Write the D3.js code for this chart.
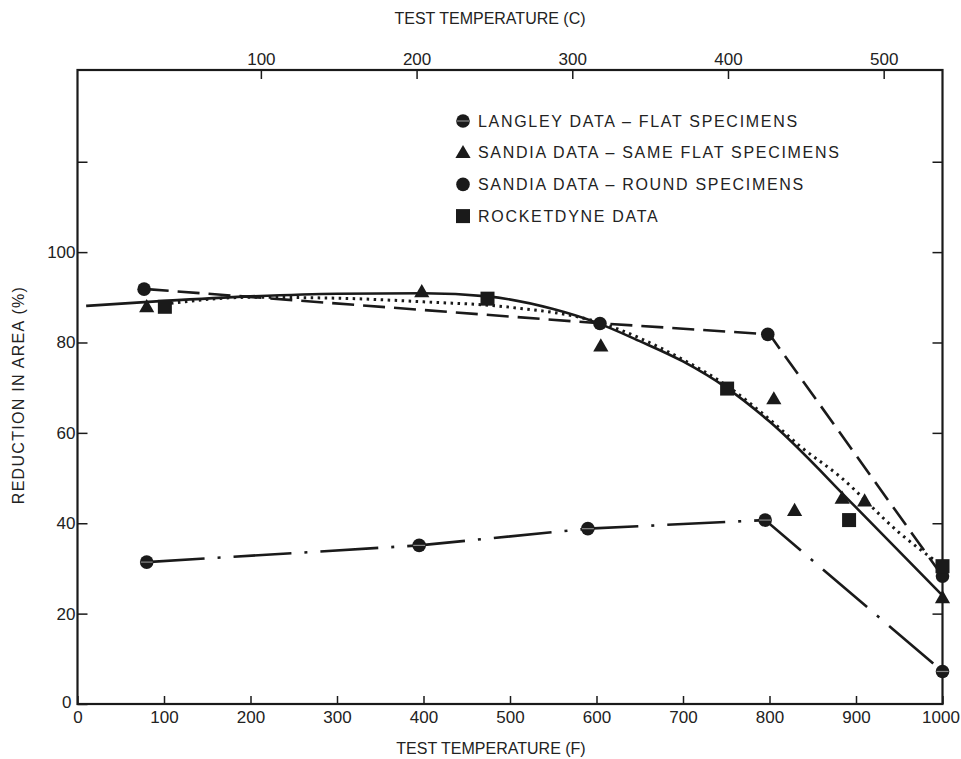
<!DOCTYPE html>
<html>
<head>
<meta charset="utf-8">
<script src="https://cdn.jsdelivr.net/npm/d3@7"></script>
<style>
  body { margin: 0; background: #fff; }
  svg { display: block; }
  text { font-family: "Liberation Sans", Arial, sans-serif; fill: #222; }
</style>
</head>
<body>
<svg id="chart" width="961" height="759"></svg>
<script>
// values (x = test temperature F, y = reduction in area %)
const langleyF = [80, 395, 590, 795, 1000]
const langleyV = [31.4, 35.1, 38.8, 40.7, 7.2]

const sandiaFlatF = [80, 398, 605, 805, 829, 884, 910, 1000]
const sandiaFlatV = [87.9, 91.2, 79.2, 67.5, 42.8, 45.5, 44.9, 23.5]

const sandiaRoundF = [77, 604, 798, 1000]
const sandiaRoundV = [91.8, 84.2, 81.8, 28.3]

const rocketF = [101, 474, 751, 892, 1000]
const rocketV = [87.9, 89.7, 69.8, 40.7, 30.5]

// faired curves
const solidF = [10, 100, 200, 300, 400, 474, 550, 600, 650, 700, 750, 800, 900, 1000]
const solidV = [88.1, 89.2, 90.2, 90.8, 90.9, 90.2, 87.4, 84.4, 80.3, 75.8, 70, 62.5, 43.5, 24]

const dottedF = [100, 200, 300, 400, 500, 600, 700, 750, 800, 835, 881, 950, 1000]
const dottedV = [88.5, 90, 89.8, 89, 87.8, 84.6, 76.2, 70.5, 63, 57.1, 50.4, 37.9, 30.5]

const dashedF = [80, 600, 800, 1000]
const dashedV = [91.8, 84.3, 81.8, 28.3]

const langleyLineF = [80, 395, 590, 795, 1000]
const langleyLineV = [31.4, 35.1, 38.8, 40.7, 7.2]

const fTicks = [0, 100, 200, 300, 400, 500, 600, 700, 800, 900, 1000]
const cTicks = [100, 200, 300, 400, 500]
const yTicks = [0, 20, 40, 60, 80, 100, 120]

const legendLabels = [
    "LANGLEY DATA – FLAT SPECIMENS",
    "SANDIA DATA – SAME FLAT SPECIMENS",
    "SANDIA DATA – ROUND SPECIMENS",
    "ROCKETDYNE DATA"
]
const legendShapes = ["langley", "triangle", "circle", "square"]

const plotLeft = 77.5, plotRight = 942.5, plotTop = 70, plotBottom = 704

const svg = d3.select("#chart")

const x = d3.scaleLinear().domain([0, 1000]).range([plotLeft, plotRight])
const xC = d3.scaleLinear().domain([(0 - 32) / 1.8, (1000 - 32) / 1.8]).range([plotLeft, plotRight])
const y = d3.scaleLinear().domain([0, 140.3]).range([plotBottom, plotTop])

const ink = "#1a1a1a"

// axes
const gB = svg.append("g")
    .attr("transform", "translate(0," + plotBottom + ")")
    .call(d3.axisBottom(x).tickValues(fTicks).tickSize(-8).tickPadding(7).tickFormat(d => d))
const gT = svg.append("g")
    .attr("transform", "translate(0," + plotTop + ")")
    .call(d3.axisTop(xC).tickValues(cTicks).tickSize(-9).tickPadding(5).tickFormat(d => d))
const gL = svg.append("g")
    .attr("transform", "translate(" + plotLeft + ",0)")
    .call(d3.axisLeft(y).tickValues(yTicks).tickSize(-10).tickPadding(2)
        .tickFormat(d => d === 120 ? "" : d))
const gR = svg.append("g")
    .attr("transform", "translate(" + plotRight + ",0)")
    .call(d3.axisRight(y).tickValues(yTicks.slice(1)).tickSize(-10).tickFormat(""))

for (const g of [gB, gT, gL, gR]) {
    g.select(".domain").remove()
    g.selectAll("line").attr("stroke", ink).attr("stroke-width", 1.5)
    g.selectAll("text")
        .style("font-family", '"Liberation Sans", Arial, sans-serif')
        .style("font-size", "17px")
        .attr("fill", "#222")
}
gL.selectAll(".tick").filter(d => d === 0).select("text").attr("dy", "0.2em").attr("x", -6)
gB.selectAll(".tick").filter(d => d === 1000).select("text").attr("x", -2)

// frame
svg.append("rect")
    .attr("x", plotLeft).attr("y", plotTop)
    .attr("width", plotRight - plotLeft).attr("height", plotBottom - plotTop)
    .attr("fill", "none").attr("stroke", ink).attr("stroke-width", 2.2)

// titles
svg.append("text")
    .attr("x", 490).attr("y", 24)
    .attr("text-anchor", "middle")
    .style("font-size", "16px")
    .text("TEST TEMPERATURE (C)")
svg.append("text")
    .attr("x", 491).attr("y", 754)
    .attr("text-anchor", "middle")
    .style("font-size", "16px")
    .text("TEST TEMPERATURE (F)")
svg.append("text")
    .attr("transform", "translate(24,395) rotate(-90)")
    .attr("text-anchor", "middle")
    .style("font-size", "16px")
    .style("letter-spacing", "1.3px")
    .text("REDUCTION IN AREA (%)")

// curves
const line = d3.line()
    .x(d => x(d[0]))
    .y(d => y(d[1]))

const zip = (a, b) => a.map((v, i) => [v, b[i]])

svg.append("path")
    .datum(zip(solidF, solidV))
    .attr("d", line.curve(d3.curveMonotoneX))
    .attr("fill", "none").attr("stroke", ink).attr("stroke-width", 2.6)

svg.append("path")
    .datum(zip(dottedF, dottedV))
    .attr("d", line.curve(d3.curveMonotoneX))
    .attr("fill", "none").attr("stroke", ink).attr("stroke-width", 3)
    .attr("stroke-dasharray", "2.5,4.5")

svg.append("path")
    .datum(zip(dashedF, dashedV))
    .attr("d", line.curve(d3.curveLinear))
    .attr("fill", "none").attr("stroke", ink).attr("stroke-width", 2.6)
    .attr("stroke-dasharray", "22,9")

svg.append("path")
    .datum(zip(langleyLineF, langleyLineV))
    .attr("d", line.curve(d3.curveLinear))
    .attr("fill", "none").attr("stroke", ink).attr("stroke-width", 2.6)
    .attr("stroke-dasharray", "58,13,3,13")

// markers
function drawMarker(g, shape, cx, cy) {
    if (shape === "circle" || shape === "langley") {
        g.append("circle").attr("cx", cx).attr("cy", cy).attr("r", 6.8).attr("fill", ink)
        if (shape === "langley") {
            g.append("line")
                .attr("x1", cx - 6).attr("x2", cx + 6)
                .attr("y1", cy).attr("y2", cy)
                .attr("stroke", "#888").attr("stroke-width", 1.2)
        }
    } else if (shape === "triangle") {
        g.append("path")
            .attr("d", d3.symbol().type(d3.symbolTriangle).size(100)())
            .attr("transform", "translate(" + cx + "," + (cy + 1) + ")")
            .attr("fill", ink)
    } else {
        g.append("rect")
            .attr("x", cx - 7).attr("y", cy - 7)
            .attr("width", 14).attr("height", 14)
            .attr("fill", ink)
    }
}

const marks = svg.append("g")
const sets = [
    ["langley", langleyF, langleyV],
    ["triangle", sandiaFlatF, sandiaFlatV],
    ["circle", sandiaRoundF, sandiaRoundV],
    ["square", rocketF, rocketV]
]
sets.forEach(s => {
    s[1].forEach((f, i) => drawMarker(marks, s[0], x(f), y(s[2][i])))
})

// legend
const legend = svg.append("g")
legendLabels.forEach((lab, i) => {
    const ly = 121 + i * 31.7
    drawMarker(legend, legendShapes[i], 463, ly)
    legend.append("text")
        .attr("x", 478).attr("y", ly)
        .attr("dy", "0.36em")
        .style("font-size", "16px")
        .style("letter-spacing", "1.7px")
        .text(lab)
})
</script>
</body>
</html>
